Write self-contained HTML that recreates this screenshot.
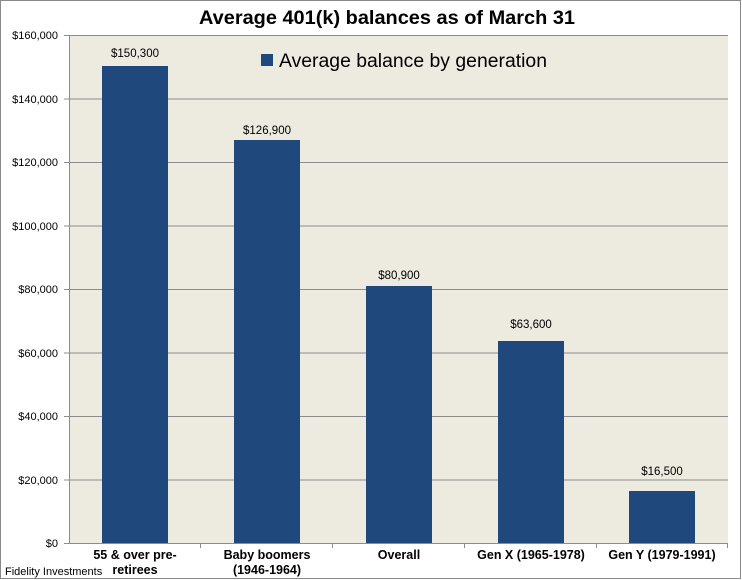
<!DOCTYPE html>
<html><head><meta charset="utf-8"><style>
html,body{margin:0;padding:0;background:#fff;}
svg{display:block;font-family:"Liberation Sans",sans-serif;}
</style></head><body>
<svg width="742" height="580" viewBox="0 0 742 580" xmlns="http://www.w3.org/2000/svg">
<rect x="0.5" y="0.5" width="740" height="578" fill="#fff" stroke="#888"/>
<text x="387" y="24" text-anchor="middle" font-size="19" font-weight="bold" fill="#000" textLength="376" lengthAdjust="spacingAndGlyphs">Average 401(k) balances as of March 31</text>
<rect x="69" y="35" width="659" height="508" fill="#EDEAE0"/>
<g stroke="#8c8c8c" stroke-width="1">
<line x1="69" y1="35.5" x2="728" y2="35.5"/>
<line x1="69" y1="99" x2="728" y2="99"/>
<line x1="69" y1="162.5" x2="728" y2="162.5"/>
<line x1="69" y1="226" x2="728" y2="226"/>
<line x1="69" y1="289.5" x2="728" y2="289.5"/>
<line x1="69" y1="353" x2="728" y2="353"/>
<line x1="69" y1="416.5" x2="728" y2="416.5"/>
<line x1="69" y1="480" x2="728" y2="480"/>
<line x1="69.5" y1="35" x2="69.5" y2="543"/>
<line x1="64" y1="543.5" x2="728" y2="543.5"/>
<line x1="64" y1="35.5" x2="69" y2="35.5"/><line x1="64" y1="99" x2="69" y2="99"/><line x1="64" y1="162.5" x2="69" y2="162.5"/><line x1="64" y1="226" x2="69" y2="226"/><line x1="64" y1="289.5" x2="69" y2="289.5"/><line x1="64" y1="353" x2="69" y2="353"/><line x1="64" y1="416.5" x2="69" y2="416.5"/><line x1="64" y1="480" x2="69" y2="480"/>
<line x1="200.5" y1="543" x2="200.5" y2="548"/><line x1="332.5" y1="543" x2="332.5" y2="548"/><line x1="464.5" y1="543" x2="464.5" y2="548"/><line x1="596.5" y1="543" x2="596.5" y2="548"/><line x1="727.5" y1="543" x2="727.5" y2="548"/>
</g>
<g font-size="11" fill="#000" text-anchor="end">
<text x="58" y="39">$160,000</text><text x="58" y="103">$140,000</text><text x="58" y="166">$120,000</text><text x="58" y="230">$100,000</text><text x="58" y="293">$80,000</text><text x="58" y="357">$60,000</text><text x="58" y="420">$40,000</text><text x="58" y="484">$20,000</text><text x="58" y="547">$0</text>
</g>
<g fill="#1F497D">
<rect x="102" y="66" width="66" height="477"/>
<rect x="234" y="140" width="66" height="403"/>
<rect x="366" y="286" width="66" height="257"/>
<rect x="498" y="341" width="66" height="202"/>
<rect x="629" y="491" width="66" height="52"/>
</g>
<g font-size="11.5" fill="#000" text-anchor="middle">
<text x="135" y="57">$150,300</text><text x="267" y="134">$126,900</text><text x="399" y="279">$80,900</text><text x="531" y="328">$63,600</text><text x="662" y="475">$16,500</text>
</g>
<rect x="261" y="54" width="12" height="12" fill="#1F497D"/>
<text x="279" y="67" font-size="19" fill="#000" textLength="268" lengthAdjust="spacingAndGlyphs">Average balance by generation</text>
<g font-size="12.5" font-weight="bold" fill="#000" text-anchor="middle">
<text x="135" y="559">55 &amp; over pre-</text><text x="135" y="574">retirees</text>
<text x="267" y="559">Baby boomers</text><text x="267" y="574">(1946-1964)</text>
<text x="399" y="559">Overall</text>
<text x="531" y="559">Gen X (1965-1978)</text>
<text x="662" y="559">Gen Y (1979-1991)</text>
</g>
<text x="5" y="575" font-size="11" fill="#000">Fidelity Investments</text>
</svg>
</body></html>
